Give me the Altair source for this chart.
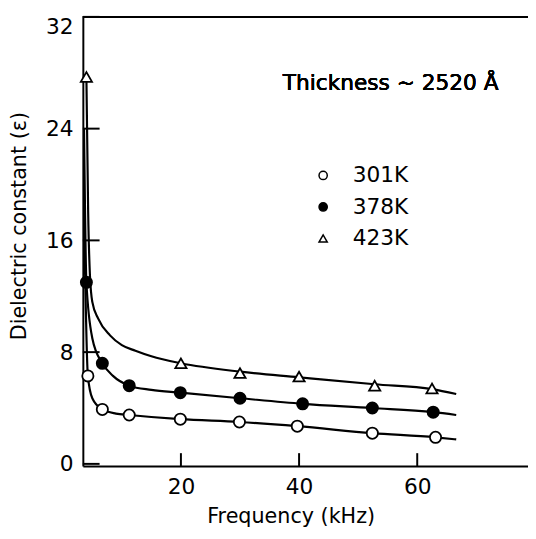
import altair as alt
import pandas as pd

series = ["301K", "378K", "423K"]

# measured points (markers)
x_301 = [4.25, 6.7, 11.25, 19.9, 29.9, 39.7, 52.4, 63.1]
y_301 = [6.3, 3.9, 3.5, 3.2, 3.0, 2.7, 2.2, 1.9]
x_378 = [4.0, 6.7, 11.25, 19.9, 30.0, 40.6, 52.4, 62.7]
y_378 = [13.0, 7.2, 5.6, 5.1, 4.7, 4.3, 4.0, 3.7]
x_423 = [4.0, 20.0, 30.0, 40.0, 52.8, 62.5]
y_423 = [27.7, 7.2, 6.5, 6.25, 5.6, 5.4]

# fitted curves
cx_301 = [3.6, 4.25, 5.0, 6.7, 9.0, 11.25, 19.9, 29.9, 39.7, 52.4, 63.1, 66.6]
cy_301 = [18.0, 6.3, 4.7, 3.9, 3.6, 3.5, 3.2, 3.0, 2.7, 2.2, 1.9, 1.75]
cx_378 = [3.6, 4.0, 5.0, 6.7, 8.5, 11.25, 15.0, 19.9, 30.0, 40.6, 52.4, 62.7, 66.6]
cy_378 = [24.0, 13.0, 9.0, 7.2, 6.3, 5.6, 5.3, 5.1, 4.7, 4.3, 4.0, 3.7, 3.5]
cx_423 = [4.0, 4.3, 4.6, 5.0, 6.0, 8.0, 10.0, 12.3, 15.0, 20.0, 30.0, 40.0, 52.8, 62.5, 66.6]
cy_423 = [27.7, 18.0, 13.5, 11.6, 10.4, 9.2, 8.5, 8.1, 7.7, 7.2, 6.6, 6.2, 5.7, 5.35, 5.0]

x_ticks = [20, 40, 60]
y_ticks = [0, 8, 16, 24, 32]
annotation = "Thickness \u223c 2520 \u00c5"

pts = pd.concat([
    pd.DataFrame({"f": x_301, "e": y_301, "s": series[0]}),
    pd.DataFrame({"f": x_378, "e": y_378, "s": series[1]}),
    pd.DataFrame({"f": x_423, "e": y_423, "s": series[2]}),
])
curves = pd.concat([
    pd.DataFrame({"f": cx_301, "e": cy_301, "s": series[0]}),
    pd.DataFrame({"f": cx_378, "e": cy_378, "s": series[1]}),
    pd.DataFrame({"f": cx_423, "e": cy_423, "s": series[2]}),
])
xt = pd.DataFrame({"f": x_ticks})
yt = pd.DataFrame({"e": y_ticks})

W, H = 452, 456
FONT = "DejaVu Sans"

xscale = alt.Scale(domain=[3.4, 78.75], nice=False, zero=False)
yscale = alt.Scale(domain=[-0.15, 32], nice=False, zero=False)

xaxis = alt.Axis(values=x_ticks, tickSize=0, grid=False, domainColor="black",
                 domainWidth=2, labelFontSize=22, labelPadding=11, labelFont=FONT,
                 labelColor="black", title="Frequency (kHz)", titleFontSize=21,
                 titleFont=FONT, titleFontWeight="normal", titleColor="black",
                 titleX=211, titleY=57, titleBaseline="alphabetic", titleAlign="center")
yaxis = alt.Axis(values=y_ticks, tickSize=0, grid=False, domainColor="black",
                 domainWidth=2, labelFontSize=22, labelPadding=10, labelFont=FONT,
                 labelColor="black",
                 labelBaseline={"condition": {"test": "datum.value == 32", "value": "top"},
                                "value": "middle"},
                 title="Dielectric constant (\u03b5)", titleFontSize=21,
                 titleFont=FONT, titleFontWeight="normal", titleColor="black",
                 titleX=-64, titleY=212, titleBaseline="middle", titleAlign="center",
                 titleAngle=270)

lines = alt.Chart(curves).mark_line(color="black", strokeWidth=2.2,
                                    interpolate="monotone", clip=True).encode(
    x=alt.X("f:Q", scale=xscale, axis=xaxis),
    y=alt.Y("e:Q", scale=yscale, axis=yaxis),
    detail="s:N",
)

points = alt.Chart(pts).mark_point(filled=True, strokeWidth=1.8,
                                   size=130, opacity=1).encode(
    x=alt.X("f:Q", scale=xscale),
    y=alt.Y("e:Q", scale=yscale),
    shape=alt.Shape("s:N", scale=alt.Scale(domain=series,
                    range=["circle", "circle", "triangle-up"]), title=None),
    fill=alt.Fill("s:N", scale=alt.Scale(domain=series,
                  range=["white", "black", "white"]), title=None),
    stroke=alt.Stroke("s:N", scale=alt.Scale(domain=series,
                      range=["black", "black", "black"]), title=None),
)

xtick_rules = alt.Chart(xt).mark_rule(color="black", strokeWidth=2).encode(
    x=alt.X("f:Q", scale=xscale),
    y=alt.value(H),
    y2=alt.value(H - 13),
)
ytick_rules = alt.Chart(yt).mark_rule(color="black", strokeWidth=2).encode(
    y=alt.Y("e:Q", scale=yscale),
    x=alt.value(0),
    x2=alt.value(17),
)
top_line = alt.Chart(yt).mark_rule(color="black", strokeWidth=2).encode(
    y=alt.datum(32, scale=yscale),
    x=alt.value(0),
    x2=alt.value(W),
)
note = alt.Chart(yt).mark_text(text=annotation, fontSize=22, font=FONT,
                               align="center", baseline="alphabetic",
                               color="black").encode(
    x=alt.datum(55.5, scale=xscale),
    y=alt.datum(26.8, scale=yscale),
)

chart = alt.layer(lines, xtick_rules, ytick_rules, top_line, note, points).properties(
    width=W, height=H,
    autosize=alt.AutoSizeParams(type="none"),
    padding={"left": 76, "top": 5, "right": 0, "bottom": 62},
).configure_view(strokeWidth=0).configure_legend(
    orient="none", legendX=233, legendY=150, padding=0,
    labelFontSize=22, labelFont=FONT, labelColor="black",
    symbolSize=70, symbolStrokeWidth=1.5,
    rowPadding=10, labelOffset=19,
)

chart.save("out.html", embed_options={"renderer": "svg", "actions": False})
